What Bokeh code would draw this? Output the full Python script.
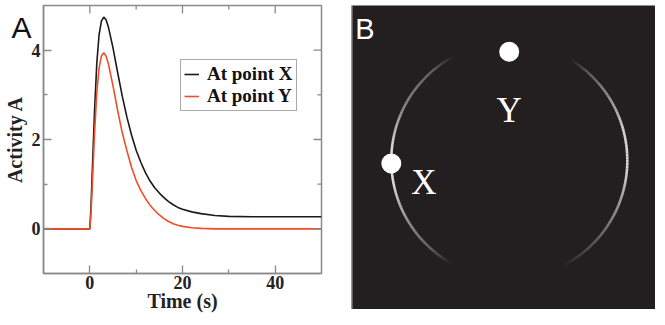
import numpy as np
from bokeh.plotting import figure
from bokeh.layouts import row
from bokeh.models import Range1d, FixedTicker, Label, Span
from bokeh.core.properties import value
from bokeh.embed import file_html
from bokeh.resources import INLINE

# ---------------- data: panel A ----------------
time_s = [-10, 0, 0.25, 0.5, 1, 1.5, 2, 2.5, 3, 3.5, 4, 5, 6, 7, 8, 9, 10, 11, 12,
          13, 14, 15, 16, 17, 18, 19, 20, 22, 24, 27, 30, 35, 40, 50]
activity_x = [0, 0, 0.5, 1.2, 2.6, 3.7, 4.35, 4.65, 4.74, 4.68, 4.52, 4.05, 3.5, 2.97,
              2.5, 2.1, 1.76, 1.49, 1.26, 1.07, 0.92, 0.80, 0.70, 0.61, 0.54, 0.48,
              0.44, 0.38, 0.34, 0.30, 0.28, 0.27, 0.27, 0.27]
activity_y = [0, 0, 0.35, 0.9, 2.1, 3.05, 3.6, 3.87, 3.94, 3.87, 3.7, 3.2, 2.65, 2.15,
              1.75, 1.38, 1.08, 0.86, 0.68, 0.53, 0.41, 0.31, 0.23, 0.165, 0.115,
              0.08, 0.055, 0.025, 0.01, 0, 0, 0, 0, 0]
x_major = [0, 20, 40]
x_minor = [10, 30]
y_major = [0, 2, 4]
y_minor = [1, 3]
series_names = ["At point X", "At point Y"]

# ---------------- data: panel B ----------------
ring_center = (157.8, 150.0)
ring_radius = 118.0
left_arc_deg = [118, 241]
right_arc_deg = [-64, 59]
dot_names = ["X", "Y"]
dot_x = [39.8, 157.7]
dot_y = [147.0, 258.7]
label_x = [59.7, 157.7]
label_y = [127.7, 199.7]

SERIF = "Liberation Serif"
SANS = "Liberation Sans"
GRAY = "#8a8a8a"
RED = "#f04e2a"

X0, X1, Y0, Y1 = -10, 50, -1, 5
FW, FH = 278, 268

# ---------------- panel A ----------------
p1 = figure(frame_width=FW, frame_height=FH, output_backend="svg",
            toolbar_location=None,
            x_range=Range1d(X0, X1), y_range=Range1d(Y0, Y1),
            min_border_left=37, min_border_right=30, min_border_top=5,
            min_border_bottom=0)
p1.xgrid.visible = False
p1.ygrid.visible = False
p1.outline_line_color = GRAY
p1.outline_line_width = 1.5

p1.line(time_s, activity_x, line_color="#1a1a1a", line_width=1.6,
        legend_label=series_names[0])
p1.line(time_s, activity_y, line_color=RED, line_width=1.6,
        legend_label=series_names[1])

for ax in (p1.xaxis[0], p1.yaxis[0]):
    ax.axis_line_color = GRAY
    ax.axis_line_width = 1.5
    ax.major_tick_line_color = GRAY
    ax.minor_tick_line_color = GRAY
    ax.major_tick_line_width = 1.3
    ax.minor_tick_line_width = 1.3
    ax.major_tick_in = 8
    ax.major_tick_out = 0
    ax.minor_tick_in = 4
    ax.minor_tick_out = 0
    ax.major_label_text_font = SERIF
    ax.major_label_text_font_style = "bold"
    ax.major_label_text_font_size = "18px"
    ax.major_label_text_color = "#222222"
    ax.major_label_standoff = 3
    ax.axis_label_text_font = SERIF
    ax.axis_label_text_font_style = "bold"
    ax.axis_label_text_font_size = "20px"
    ax.axis_label_text_color = "#222222"

p1.xaxis.ticker = FixedTicker(ticks=x_major, minor_ticks=x_minor)
p1.yaxis.ticker = FixedTicker(ticks=y_major, minor_ticks=y_minor)
p1.xaxis.axis_label = "Time (s)"
p1.yaxis.axis_label = "Activity A"
p1.xaxis[0].major_label_standoff = 2
p1.xaxis[0].axis_label_standoff = -2
p1.yaxis[0].axis_label_standoff = 3

# inward ticks on the top and right edges of the frame
ux = (X1 - X0) / FW
uy = (Y1 - Y0) / FH
xt = x_major + x_minor
xl = [8 * uy] * len(x_major) + [4 * uy] * len(x_minor)
p1.segment(x0=xt, y0=[Y1] * len(xt), x1=xt, y1=[Y1 - l for l in xl],
           line_color=GRAY, line_width=1.3)
yt = y_major + y_minor
yl = [8 * ux] * len(y_major) + [4 * ux] * len(y_minor)
p1.segment(x0=[X1] * len(yt), y0=yt, x1=[X1 - l for l in yl], y1=yt,
           line_color=GRAY, line_width=1.3)

lg = p1.legend[0]
lg.location = (137, 162)
lg.label_text_font = SERIF
lg.label_text_font_style = "bold"
lg.label_text_font_size = "19px"
lg.label_text_color = "#111111"
lg.glyph_width = 15
lg.label_standoff = 8
lg.spacing = 0
lg.padding = 3
lg.margin = 0
lg.border_line_color = "#555555"
lg.border_line_width = 1
lg.label_height = 20
lg.glyph_height = 20

# panel letter: placed in the (otherwise empty) right side panel so that it
# is not clipped to the frame and does not widen the left border
p1.add_layout(Label(x=X0, y=Y1, x_offset=-32, y_offset=-22, text="A",
                    text_font=SANS, text_font_size="30px",
                    text_color="#111111", text_baseline="alphabetic"), "right")

# ---------------- panel B ----------------
p2 = figure(frame_width=304, frame_height=305, output_backend="svg",
            toolbar_location=None,
            x_range=Range1d(0, 304), y_range=Range1d(0, 305),
            x_axis_type=None, y_axis_type=None,
            min_border=0, min_border_top=4)
p2.xgrid.visible = False
p2.ygrid.visible = False
p2.outline_line_color = None
p2.background_fill_color = "#231f20"
p2.border_fill_color = "white"
p2.add_layout(Span(location=0, dimension="height", line_color="#9d9d9d",
                   line_width=2))

def draw_arc(a0, a1, stops_pos, stops_alpha):
    n = int(abs(a1 - a0) / 1.5)
    edges = np.linspace(a0, a1, n + 1)
    frac = (0.5 * (edges[:-1] + edges[1:]) - a0) / (a1 - a0)
    alph = np.interp(frac, stops_pos, stops_alpha)
    p2.arc(x=[ring_center[0]] * n, y=[ring_center[1]] * n, radius=ring_radius,
           start_angle=np.deg2rad(edges[:-1]), end_angle=np.deg2rad(edges[1:]),
           line_color="#f0f0f0", line_width=2.6, line_alpha=alph)

draw_arc(left_arc_deg[0], left_arc_deg[1],
         [0, 0.1, 0.3, 0.45, 0.6, 0.75, 0.9, 1],
         [0, 0.3, 0.5, 0.9, 0.9, 0.55, 0.3, 0])
draw_arc(right_arc_deg[0], right_arc_deg[1],
         [0, 0.12, 0.3, 0.5, 0.65, 0.8, 0.92, 1],
         [0, 0.2, 0.5, 0.9, 0.85, 0.5, 0.25, 0])

p2.scatter(dot_x, dot_y, size=20, fill_color="white", line_color=None)
p2.text(x=[label_x[0]], y=[label_y[0]], text=[dot_names[0]],
        text_font=value(SERIF), text_font_size="35px", text_color="white",
        text_align="left", text_baseline="alphabetic")
p2.text(x=[label_x[1]], y=[label_y[1]], text=[dot_names[1]],
        text_font=value(SERIF), text_font_size="35px", text_color="white",
        text_align="center", text_baseline="alphabetic")
p2.text(x=[3.7], y=[282], text=["B"], text_font=value(SANS),
        text_font_size="29px", text_color="white", text_align="left",
        text_baseline="alphabetic")

layout = row(p1, p2)
open("out.html", "w").write(file_html(layout, INLINE))
